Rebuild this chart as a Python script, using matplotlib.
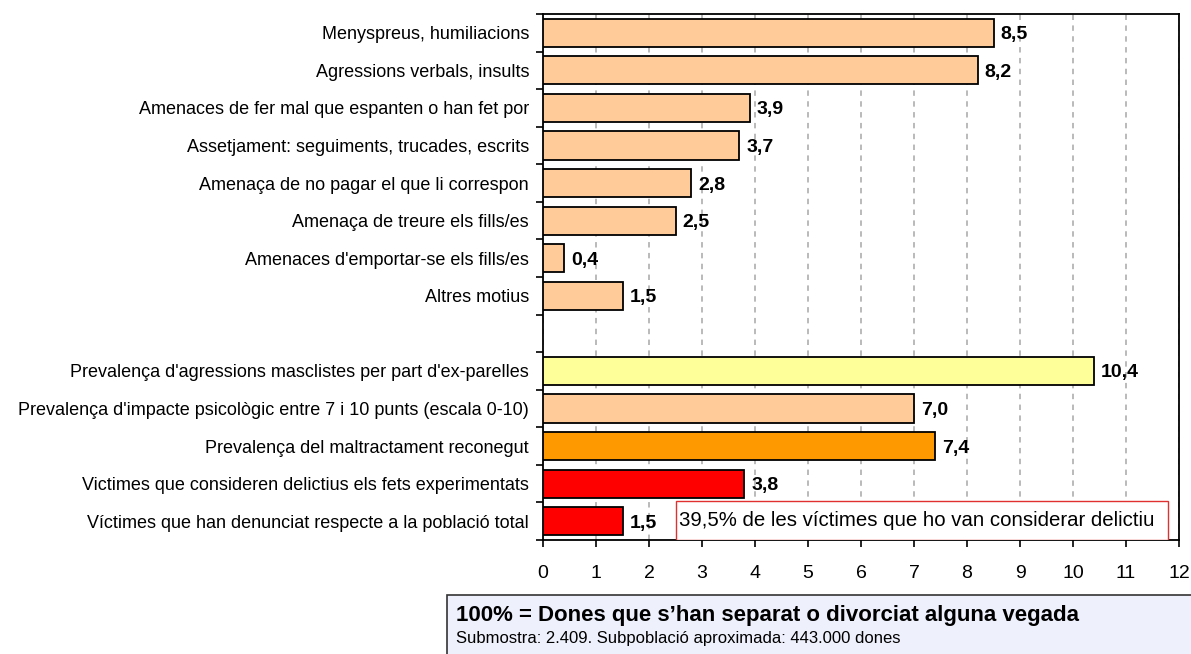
import matplotlib
matplotlib.use("Agg")
import matplotlib.pyplot as plt
from matplotlib.patches import Rectangle

plt.rcParams['font.family'] = ['Liberation Sans', 'DejaVu Sans']

# dades (el buit separa els dos blocs)
categories = [
    "Menyspreus, humiliacions",
    "Agressions verbals, insults",
    "Amenaces de fer mal que espanten o han fet por",
    "Assetjament: seguiments, trucades, escrits",
    "Amenaça de no pagar el que li correspon",
    "Amenaça de treure els fills/es",
    "Amenaces d'emportar-se els fills/es",
    "Altres motius",
    "",
    "Prevalença d'agressions masclistes per part d'ex-parelles",
    "Prevalença d'impacte psicològic entre 7 i 10 punts (escala 0-10)",
    "Prevalença del maltractament reconegut",
    "Victimes que consideren delictius els fets experimentats",
    "Víctimes que han denunciat respecte a la població total",
]
values = [8.5, 8.2, 3.9, 3.7, 2.8, 2.5, 0.4, 1.5, None, 10.4, 7.0, 7.4, 3.8, 1.5]
colors = ["#FFCC99"] * 8 + [None, "#FFFF99", "#FFCC99", "#FF9900", "#FF0000", "#FF0000"]
x_ticks = list(range(0, 13))

nota = "39,5% de les víctimes que ho van considerar delictiu"
peu_titol = "100% = Dones que s\u2019han separat o divorciat alguna vegada"
peu_text = "Submostra: 2.409. Subpoblació aproximada: 443.000 dones"

fig = plt.figure(figsize=(11.91, 6.54), dpi=100)
ax = fig.add_axes([543 / 1191, 1 - 540 / 654, (1179 - 543) / 1191, (540 - 14) / 654])

for i, (v, c) in enumerate(zip(values, colors)):
    if v is None:
        continue
    ax.barh(i, v, height=0.75, color=c, edgecolor="black", linewidth=1.3, zorder=3)
    ax.annotate(f"{v:.1f}".replace(".", ","), (v, i), xytext=(5, 0),
                textcoords="offset points", va="center_baseline", ha="left",
                fontsize=14, fontweight="bold", zorder=4)

ax.set_xlim(0, 12)
ax.set_ylim(len(categories) - 0.5, -0.5)
ax.set_xticks(x_ticks)
ax.set_xticklabels([str(t) for t in x_ticks], fontsize=14)
ax.tick_params(axis="x", direction="out", length=5, width=1.2, pad=13)

# marques a les vores de les categories, etiquetes al centre
ax.set_yticks([i - 0.5 for i in range(len(categories) + 1)])
ax.set_yticklabels([])
ax.set_yticks(range(len(categories)), minor=True)
ax.set_yticklabels(categories, minor=True, fontsize=13)
ax.tick_params(axis="y", which="major", direction="out", length=5, width=1.2)
ax.tick_params(axis="y", which="minor", length=0, pad=10)

ax.grid(axis="x", color="#B4B4B4", linestyle=(0, (3, 3)), linewidth=1.3, zorder=0)
for s in ax.spines.values():
    s.set_linewidth(1.3)

# requadre de la nota
ax.add_patch(Rectangle((2.51, 12.45), 11.8 - 2.51, 1.05, facecolor="white",
                       edgecolor="#E03030", linewidth=1.0, zorder=5))
ax.text(2.57, 12.97, nota, va="center", ha="left", fontsize=14.7, zorder=6)

# peu
fig.patches.append(Rectangle((447 / 1191, -0.05), 0.7, 0.05 + (654 - 595) / 654,
                             transform=fig.transFigure, facecolor="#EEF0FC",
                             edgecolor="#333333", linewidth=1.2))
fig.text(456 / 1191, 1 - 616 / 654, peu_titol, fontsize=16, fontweight="bold", va="center")
fig.text(456 / 1191, 1 - 638 / 654, peu_text, fontsize=12, va="center")

fig.savefig("out.png", dpi=100)
